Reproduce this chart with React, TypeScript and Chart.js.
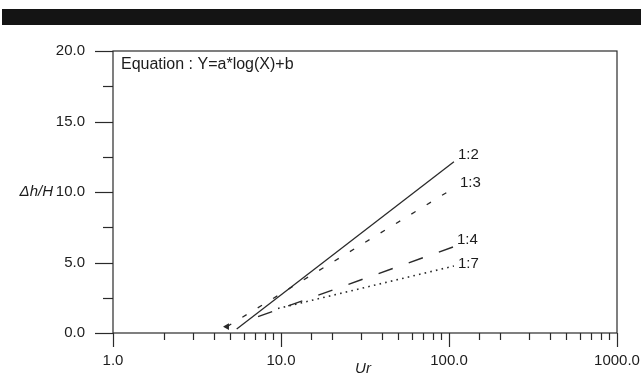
import React, { useEffect, useRef } from "react";
import Chart from "chart.js/auto";

// ---- data ----
const seriesNames = ["1:2", "1:3", "1:4", "1:7"];
const urValues12 = [5.45, 107];
const dhValues12 = [0.28, 12.15];
const urValues13 = [4.77, 107];
const dhValues13 = [0.45, 10.28];
const urValues14 = [7.3, 107];
const dhValues14 = [1.16, 6.12];
const urValues17 = [9.6, 107];
const dhValues17 = [1.74, 4.75];
const xTickValues = [1, 10, 100, 1000];
const xTickLabels = ["1.0", "10.0", "100.0", "1000.0"];
const yTickValues = [0, 5, 10, 15, 20];
const yTickLabels = ["0.0", "5.0", "10.0", "15.0", "20.0"];
const equationText = "Equation : Y=a*log(X)+b";
const xTitle = "Ur";
const yTitle = "\u0394h/H";

// ---- styles ----
const FONT = "'Liberation Sans', Arial, sans-serif";
const INK = "#1c1c1c";
const LINE = "#2a2a2a";
const dashes = [[], [5, 13], [15, 17], [1.6, 4.2]];
const widths = [1.3, 1.3, 1.5, 1.6];
const labelOffsets = [
  [4, -7],
  [6, -5],
  [3, -7],
  [4, -2],
];

const pairs = (xs: number[], ys: number[]) => xs.map((x, i) => ({ x, y: ys[i] }));

const decorPlugin = {
  id: "decor",
  afterDraw(chart: any) {
    const ctx = chart.ctx as CanvasRenderingContext2D;
    const { left, right, top, bottom } = chart.chartArea;
    const xs = chart.scales.x;
    const ys = chart.scales.y;
    ctx.save();
    ctx.strokeStyle = LINE;
    ctx.lineWidth = 1.2;
    ctx.strokeRect(left, top, right - left, bottom - top);
    const seg = (x1: number, y1: number, x2: number, y2: number) => {
      ctx.beginPath();
      ctx.moveTo(x1, y1);
      ctx.lineTo(x2, y2);
      ctx.stroke();
    };
    ys.ticks.forEach((t: any) => {
      const p = Math.round(ys.getPixelForValue(t.value)) + 0.5;
      const major = yTickValues.includes(t.value);
      seg(left - (major ? 18 : 10), p, left, p);
    });
    xs.ticks.forEach((t: any) => {
      const p = Math.round(xs.getPixelForValue(t.value)) + 0.5;
      const major = xTickValues.includes(t.value);
      seg(p, bottom, p, bottom + (major ? 14 : 7));
    });
    // texts
    ctx.fillStyle = INK;
    ctx.textBaseline = "middle";
    ctx.font = `16px ${FONT}`;
    ctx.textAlign = "left";
    ctx.fillText(equationText, left + 8, top + 14);
    ctx.font = `15px ${FONT}`;
    chart.data.datasets.forEach((ds: any, i: number) => {
      const meta = chart.getDatasetMeta(i);
      const pt = meta.data[meta.data.length - 1];
      ctx.fillText(ds.label, pt.x + labelOffsets[i][0], pt.y + labelOffsets[i][1]);
    });
    ctx.font = `italic 15px ${FONT}`;
    ctx.textAlign = "right";
    ctx.fillText(yTitle, 53, ys.getPixelForValue(10));
    ctx.textAlign = "center";
    ctx.fillText(xTitle, 363, 369);
    ctx.restore();
  },
};

export default function App() {
  const ref = useRef<HTMLCanvasElement>(null);
  useEffect(() => {
    if (!ref.current) return;
    const data = [
      pairs(urValues12, dhValues12),
      pairs(urValues13, dhValues13),
      pairs(urValues14, dhValues14),
      pairs(urValues17, dhValues17),
    ];
    const chart = new Chart(ref.current, {
      type: "line",
      data: {
        datasets: data.map((d, i) => ({
          label: seriesNames[i],
          data: d,
          borderColor: LINE,
          backgroundColor: LINE,
          borderWidth: widths[i],
          borderDash: dashes[i],
          pointRadius: i === 1 ? [2.6, 0] : 0,
          pointStyle: "triangle",
          pointRotation: -90,
          fill: false,
          tension: 0,
        })),
      },
      options: {
        responsive: false,
        maintainAspectRatio: false,
        animation: false,
        events: [],
        layout: { padding: { left: 0, top: 51, right: 24, bottom: 0 } },
        plugins: { legend: { display: false }, tooltip: { enabled: false } },
        scales: {
          x: {
            type: "logarithmic",
            min: 1,
            max: 1000,
            grid: { display: false, drawTicks: false },
            border: { display: false },
            afterFit: (s: any) => {
              s.height = 50;
              s.paddingLeft = 0;
              s.paddingRight = 0;
            },
            ticks: {
              autoSkip: false,
              maxRotation: 0,
              minRotation: 0,
              padding: 19,
              color: INK,
              font: { family: FONT, size: 15 },
              callback: (v: any) => {
                const idx = xTickValues.indexOf(Number(v));
                return idx >= 0 ? xTickLabels[idx] : "";
              },
            },
          },
          y: {
            type: "linear",
            min: 0,
            max: 20,
            grid: { display: false, drawTicks: false },
            border: { display: false },
            afterFit: (s: any) => {
              s.width = 113;
              s.paddingTop = 0;
              s.paddingBottom = 0;
            },
            ticks: {
              stepSize: 2.5,
              padding: 28,
              color: INK,
              font: { family: FONT, size: 15 },
              callback: (v: any) => {
                const idx = yTickValues.indexOf(Number(v));
                return idx >= 0 ? yTickLabels[idx] : "";
              },
            },
          },
        },
      },
      plugins: [decorPlugin],
    } as any);
    return () => chart.destroy();
  }, []);

  return (
    <div style={{ position: "absolute", left: 0, top: 0, width: 641, height: 383, background: "#fff" }}>
      <div style={{ position: "absolute", left: 2, top: 9, width: 639, height: 16, background: "#141414" }} />
      <canvas ref={ref} width={641} height={383} style={{ position: "absolute", left: 0, top: 0 }} />
    </div>
  );
}
